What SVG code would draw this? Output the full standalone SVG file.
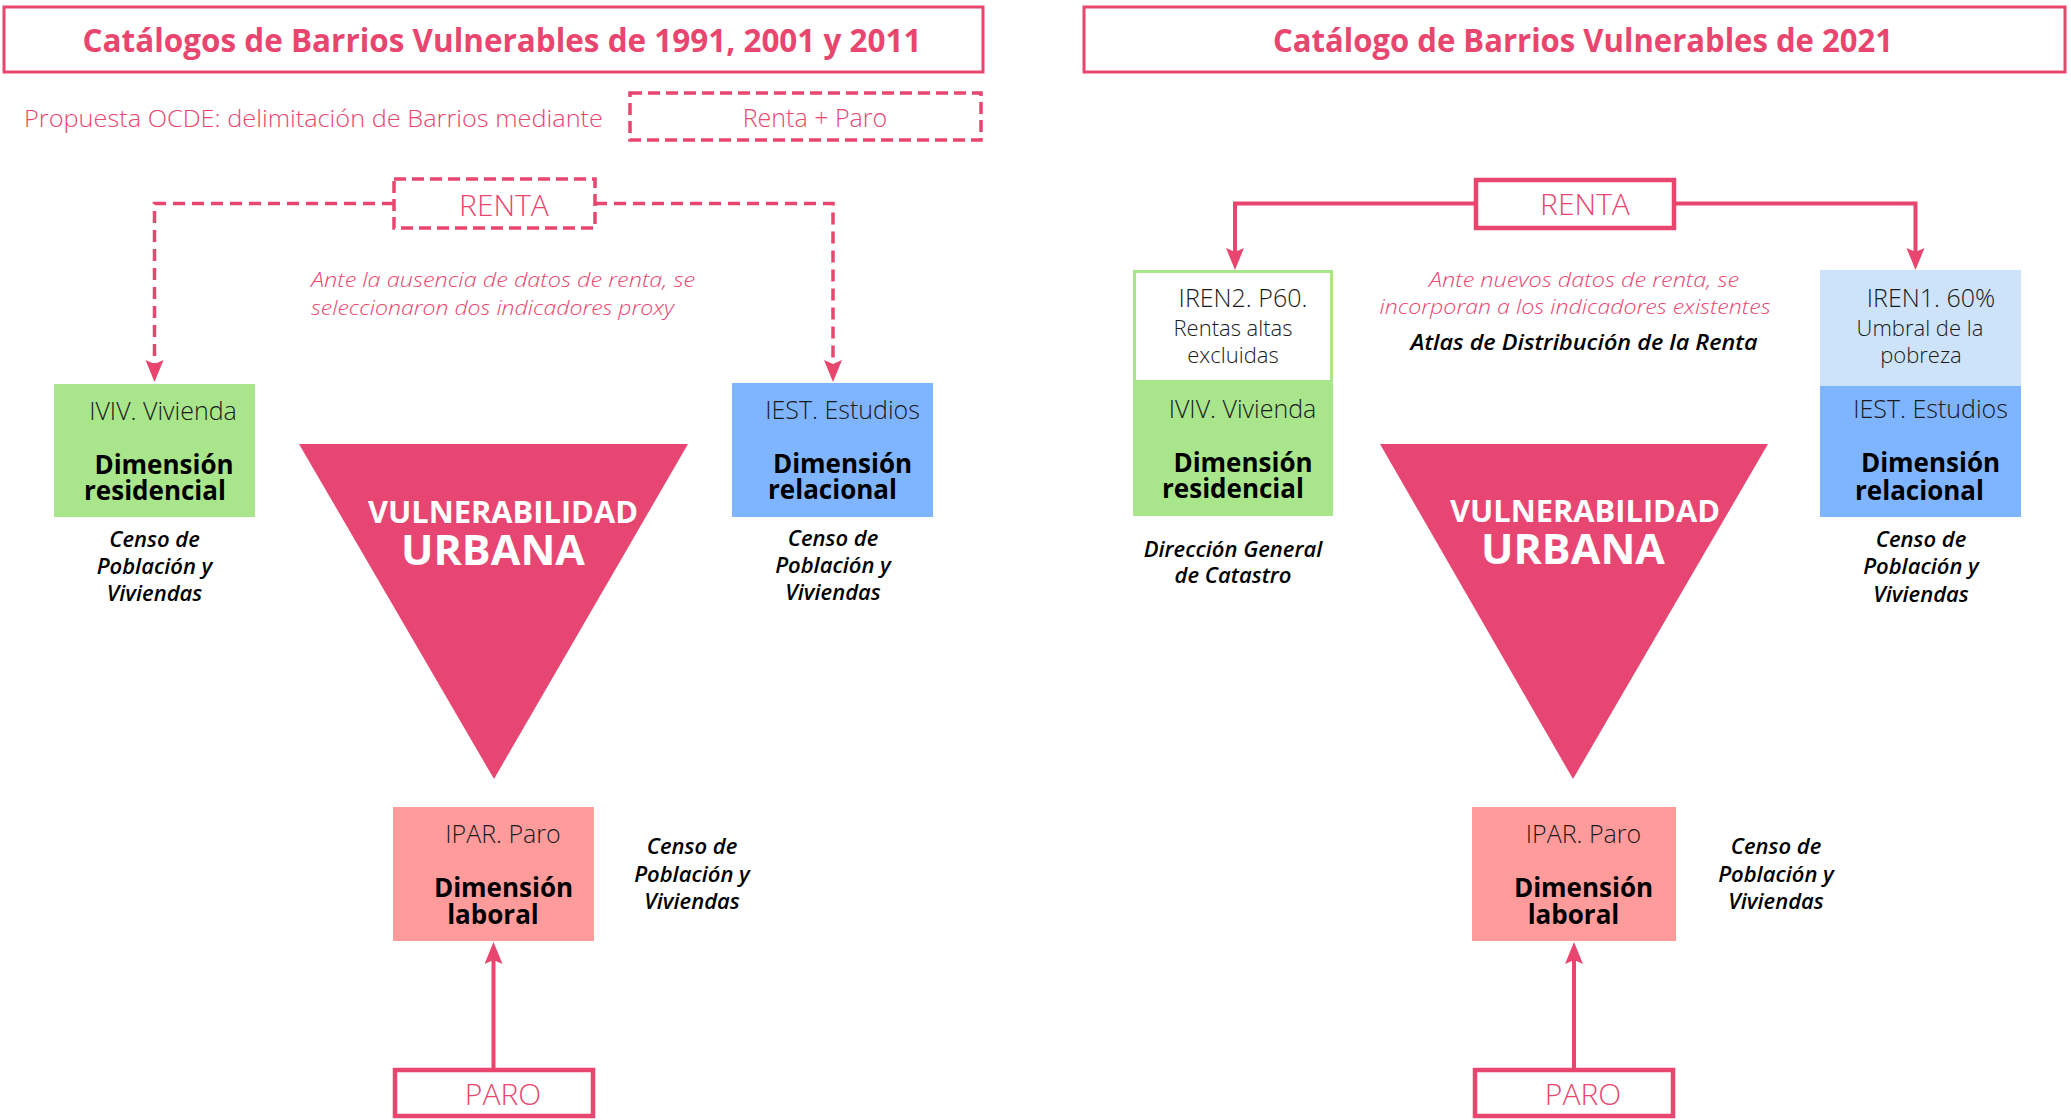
<svg xmlns="http://www.w3.org/2000/svg" width="2071" height="1120" viewBox="0 0 2071 1120">
<defs>
<marker id="ah" markerUnits="userSpaceOnUse" markerWidth="24" markerHeight="20" refX="4" refY="9" orient="auto">
<path d="M0,0 L22,9 L0,18 L4,9 Z" fill="#E8466F"/>
</marker>
<style>
.bg{fill:#ffffff}
.tbox{fill:#fff;stroke:#E8466F;stroke-width:3}
.dbox{fill:#fff;stroke:#E8466F;stroke-width:3.5;stroke-dasharray:12 6}
.sbox{fill:#fff;stroke:#E8466F;stroke-width:4.5}
.ttl{font-family:"Open Sans","Noto Sans",sans-serif;font-weight:700;font-size:32px;fill:#E8466F;text-anchor:middle}
.thin{font-family:"Open Sans","Noto Sans",sans-serif;font-weight:300}
.pk{fill:#E8466F}
.lbl{font-family:"Open Sans","Noto Sans",sans-serif;font-weight:300;font-size:25px;fill:#1a1a1a;text-anchor:middle}
.sm{font-size:22px}
.dim{font-family:"Open Sans","Noto Sans",sans-serif;font-weight:700;font-size:26px;fill:#000;text-anchor:middle}
.src{font-family:"Open Sans","Noto Sans",sans-serif;font-weight:600;font-style:italic;font-size:22px;fill:#000;text-anchor:middle}
.note{font-family:"Open Sans","Noto Sans",sans-serif;font-weight:300;font-style:italic;font-size:20px;fill:#E8466F}
.tri{fill:#E84672}
.vt{font-family:"Open Sans","Noto Sans",sans-serif;font-weight:700;fill:#fff;text-anchor:middle}
.con{fill:none;stroke:#E8466F;stroke-width:4}
.dcon{fill:none;stroke:#E8466F;stroke-width:3.5;stroke-dasharray:12 7}
.green{fill:#A9E58A}
.blue{fill:#7FB4FE}
.lblue{fill:#CCE3FA}
.salmon{fill:#FF9B9B}
</style>
</defs>
<rect class="bg" x="0" y="0" width="2071" height="1120"/>

<!-- LEFT PANEL -->
<g id="title-left">
<rect class="tbox" x="4" y="7" width="979" height="65"/>
<text class="ttl" x="502" y="52" textLength="839" lengthAdjust="spacingAndGlyphs">Catálogos de Barrios Vulnerables de 1991, 2001 y 2011</text>
</g>
<g id="propuesta">
<text class="thin pk" x="24" y="127" font-size="24" textLength="579" lengthAdjust="spacingAndGlyphs">Propuesta OCDE: delimitación de Barrios mediante</text>
</g>
<g id="renta-paro">
<rect class="dbox" x="630" y="93" width="351" height="47"/>
<text class="thin pk" x="815" y="127" font-size="25" text-anchor="middle">Renta + Paro</text>
</g>
<g id="renta-left">
<rect class="dbox" x="394" y="179" width="201" height="49"/>
<text class="thin pk" x="504" y="216" font-size="30" text-anchor="middle">RENTA</text>
</g>
<g id="note-left">
<text class="note" x="311" y="287" textLength="384" lengthAdjust="spacingAndGlyphs">Ante la ausencia de datos de renta, se</text>
<text class="note" x="311" y="315" textLength="363" lengthAdjust="spacingAndGlyphs">seleccionaron dos indicadores proxy</text>
</g>
<g id="iviv-left">
<rect class="green" x="54" y="384" width="201" height="133"/>
<text class="lbl" x="163" y="420">IVIV. Vivienda</text>
<text class="dim" x="164" y="474">Dimensión</text>
<text class="dim" x="155" y="500">residencial</text>
<text class="src" x="154.5" y="547">Censo de</text>
<text class="src" x="154.5" y="574">Población y</text>
<text class="src" x="154.5" y="601">Viviendas</text>
</g>
<g id="iest-left">
<rect class="blue" x="732" y="383" width="201" height="134"/>
<text class="lbl" x="842.5" y="419">IEST. Estudios</text>
<text class="dim" x="842.5" y="473">Dimensión</text>
<text class="dim" x="832.5" y="499">relacional</text>
<text class="src" x="833" y="546">Censo de</text>
<text class="src" x="833" y="573">Población y</text>
<text class="src" x="833" y="600">Viviendas</text>
</g>
<g id="vuln-left">
<polygon class="tri" points="299,444 688,444 494,779"/>
<text class="vt" x="503" y="523" font-size="31" textLength="270" lengthAdjust="spacingAndGlyphs">VULNERABILIDAD</text>
<text class="vt" x="493" y="565" font-size="42" textLength="184" lengthAdjust="spacingAndGlyphs">URBANA</text>
</g>
<g id="ipar-left">
<rect class="salmon" x="393" y="807" width="201" height="134"/>
<text class="lbl" x="503" y="843">IPAR. Paro</text>
<text class="dim" x="503.5" y="897">Dimensión</text>
<text class="dim" x="493" y="924">laboral</text>
<text class="src" x="692" y="854">Censo de</text>
<text class="src" x="692" y="882">Población y</text>
<text class="src" x="692" y="909">Viviendas</text>
</g>
<g id="paro-left">
<rect class="sbox" x="395" y="1070" width="198" height="46"/>
<text class="thin pk" x="503" y="1105" font-size="30" text-anchor="middle">PARO</text>
</g>

<!-- RIGHT PANEL -->
<g id="title-right">
<rect class="tbox" x="1084" y="7" width="981" height="65"/>
<text class="ttl" x="1583" y="52" textLength="620" lengthAdjust="spacingAndGlyphs">Catálogo de Barrios Vulnerables de 2021</text>
</g>
<g id="renta-right">
<rect class="sbox" x="1476" y="180" width="198" height="48"/>
<text class="thin pk" x="1585" y="215" font-size="30" text-anchor="middle">RENTA</text>
</g>
<g id="note-right">
<text class="note" x="1584" y="287" text-anchor="middle" textLength="310" lengthAdjust="spacingAndGlyphs">Ante nuevos datos de renta, se</text>
<text class="note" x="1575" y="314" text-anchor="middle" textLength="391" lengthAdjust="spacingAndGlyphs">incorporan a los indicadores existentes</text>
<text class="src" x="1584" y="350" font-weight="700" font-size="21" textLength="347" lengthAdjust="spacingAndGlyphs">Atlas de Distribución de la Renta</text>
</g>
<g id="iren2">
<rect x="1134.5" y="271.5" width="197" height="110" fill="#fff" stroke="#A9E58A" stroke-width="3"/>
<text class="lbl" x="1243" y="307">IREN2. P60.</text>
<text class="lbl sm" x="1233" y="336">Rentas altas</text>
<text class="lbl sm" x="1233" y="363">excluidas</text>
</g>
<g id="iviv-right">
<rect class="green" x="1133" y="381" width="200" height="135"/>
<text class="lbl" x="1242.5" y="418">IVIV. Vivienda</text>
<text class="dim" x="1243" y="472">Dimensión</text>
<text class="dim" x="1233" y="498">residencial</text>
<text class="src" x="1233" y="557">Dirección General</text>
<text class="src" x="1233" y="583">de Catastro</text>
</g>
<g id="iren1">
<rect class="lblue" x="1820" y="270" width="201" height="116"/>
<text class="lbl" x="1931" y="307">IREN1. 60%</text>
<text class="lbl sm" x="1920" y="336">Umbral de la</text>
<text class="lbl sm" x="1921" y="363">pobreza</text>
</g>
<g id="iest-right">
<rect class="blue" x="1820" y="386" width="201" height="131"/>
<text class="lbl" x="1930.5" y="418">IEST. Estudios</text>
<text class="dim" x="1930.5" y="472">Dimensión</text>
<text class="dim" x="1919.5" y="500">relacional</text>
<text class="src" x="1921" y="547">Censo de</text>
<text class="src" x="1921" y="574">Población y</text>
<text class="src" x="1921" y="602">Viviendas</text>
</g>
<g id="vuln-right">
<polygon class="tri" points="1380,444 1768,444 1573,779"/>
<text class="vt" x="1585" y="522" font-size="31" textLength="270" lengthAdjust="spacingAndGlyphs">VULNERABILIDAD</text>
<text class="vt" x="1573" y="564" font-size="42" textLength="184" lengthAdjust="spacingAndGlyphs">URBANA</text>
</g>
<g id="ipar-right">
<rect class="salmon" x="1472" y="807" width="204" height="134"/>
<text class="lbl" x="1583.5" y="843">IPAR. Paro</text>
<text class="dim" x="1583.5" y="897">Dimensión</text>
<text class="dim" x="1573.5" y="924">laboral</text>
<text class="src" x="1776" y="854">Censo de</text>
<text class="src" x="1776" y="882">Población y</text>
<text class="src" x="1776" y="909">Viviendas</text>
</g>
<g id="paro-right">
<rect class="sbox" x="1475" y="1070" width="198" height="46"/>
<text class="thin pk" x="1583" y="1105" font-size="30" text-anchor="middle">PARO</text>
</g>

<!-- CONNECTORS -->
<g id="connectors">
<path class="dcon" d="M394,203.5 H154.5 V364" marker-end="url(#ah)"/>
<path class="dcon" d="M595,203.5 H833 V364" marker-end="url(#ah)"/>
<path class="con" d="M493.5,1068 V960" marker-end="url(#ah)"/>
<path class="con" d="M1474,203.5 H1235 V252" marker-end="url(#ah)"/>
<path class="con" d="M1676,203.5 H1915.5 V252" marker-end="url(#ah)"/>
<path class="con" d="M1574,1068 V960" marker-end="url(#ah)"/>
</g>
</svg>
